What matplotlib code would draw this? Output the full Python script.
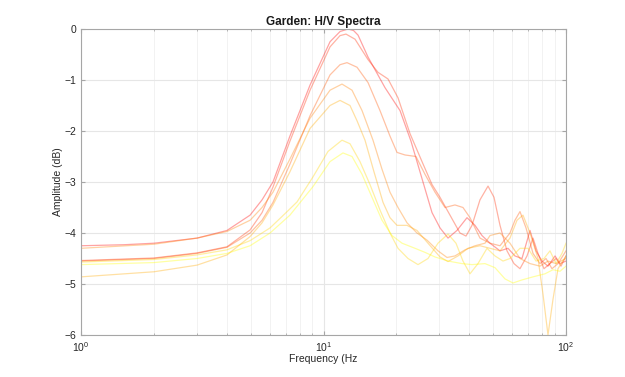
import matplotlib
matplotlib.use("Agg")
import matplotlib.pyplot as plt
from matplotlib.ticker import FixedLocator, NullFormatter

plt.rcParams['font.family'] = ['Liberation Sans', 'DejaVu Sans']
plt.rcParams['mathtext.default'] = 'regular'

# H/V spectra: frequency (Hz) and amplitude (dB) per curve
f1 = [1, 1.5, 2, 3.01, 4, 4.98, 5.58, 6.19, 7.27, 8.8, 10.64, 11.7, 12.62, 13.3, 13.88,
      15.26, 17.93, 20.68, 22.95, 25.72, 28.02, 30.23, 32.62, 35.51, 39.06, 42.15,
      45.04, 48.6, 53.44, 57.65, 61.6, 65.84, 71.05, 75.21, 79.62, 84.28, 90.08, 94.47, 100]
v1 = [-4.25, -4.23, -4.2, -4.1, -3.95, -3.65, -3.35, -3.0, -2.1, -1.1, -0.25, -0.05, 0.0, -0.03, -0.12,
      -0.55, -1.15, -1.6, -2.2, -3.0, -3.6, -3.9, -4.1, -3.95, -3.7, -3.85,
      -4.05, -4.2, -4.35, -4.3, -4.45, -4.5, -3.95, -4.35, -4.55, -4.65, -4.45, -4.6, -4.55]

f2 = [1, 2, 3.01, 4, 4.98, 5.58, 6.19, 7.27, 8.8, 10.64, 11.7, 12.38, 13.49, 15.26,
      16.78, 18.45, 20.29, 22.73, 25.48, 28.02, 30.23, 33.24, 36.54, 38.69, 40.96, 44.19,
      47.69, 50.48, 53.44, 57.11, 61.02, 64.6, 69.06, 73.1, 76.65, 81.14, 85.9, 90.95, 95.36, 100]
v2 = [-4.54, -4.49, -4.39, -4.27, -3.94, -3.6, -3.1, -2.2, -1.2, -0.35, -0.13, -0.1, -0.2, -0.6,
      -0.85, -0.98, -1.35, -2.05, -2.6, -3.05, -3.3, -3.65, -4.0, -4.06, -3.85, -3.35,
      -3.08, -3.3, -3.85, -4.35, -4.6, -4.7, -4.45, -4.1, -4.4, -4.7, -4.6, -4.5, -4.65, -4.45]

f3 = [1, 2, 3.01, 4, 4.98, 5.58, 6.19, 7.27, 8.8, 10.64, 11.7, 12.5, 13.75, 15.26,
      17.1, 18.8, 20.1, 21.68, 24.06, 26.22, 28.83, 31.7, 34.84, 37.6, 40.19, 44.19,
      48.6, 53.44, 58.75, 61.6, 64.6, 68.41, 73.1, 78.12, 82.69, 87.55, 92.68, 100]
v3 = [-4.55, -4.5, -4.4, -4.28, -4.0, -3.75, -3.4, -2.65, -1.7, -0.9, -0.7, -0.66, -0.75, -1.05,
      -1.6, -2.1, -2.42, -2.47, -2.5, -2.85, -3.2, -3.5, -3.45, -3.5, -3.7, -4.1,
      -4.2, -4.25, -4.0, -3.75, -3.58, -3.9, -4.4, -4.6, -4.5, -4.7, -4.6, -4.35]

f4 = [1, 2, 3.01, 4, 4.98, 5.58, 6.19, 7.27, 8.8, 10.64, 11.92, 13.11, 14.42, 16.0,
      17.43, 18.8, 20.29, 22.1, 24.29, 26.72, 29.66, 32.31, 34.84, 38.32, 42.15, 46.34,
      48.6, 53.44, 58.75, 64.6, 71.05, 78.12, 84.28, 90.95, 100]
v4 = [-4.3, -4.22, -4.1, -3.97, -3.75, -3.5, -3.2, -2.55, -1.75, -1.2, -1.08, -1.2, -1.6, -2.18,
      -2.75, -3.2, -3.5, -3.8, -4.0, -4.14, -4.35, -4.48, -4.45, -4.33, -4.25, -4.2,
      -4.05, -4.0, -4.2, -4.5, -4.6, -4.65, -4.55, -4.6, -4.5]

f5 = [1, 2, 3.01, 4, 4.98, 5.58, 6.19, 7.27, 8.8, 10.64, 11.7, 12.86, 13.75, 14.83,
      16.15, 17.6, 18.8, 20.1, 22.1, 24.29, 26.97, 30.23, 32.62, 35.85, 39.43, 44.19,
      48.6, 53.44, 58.75, 62.8, 66.47, 71.05, 76.65, 80.38, 84.28, 88.38, 92.68, 100]
v5 = [-4.86, -4.76, -4.63, -4.43, -4.07, -3.8, -3.45, -2.8, -1.95, -1.5, -1.4, -1.5, -1.8, -2.18,
      -2.8, -3.4, -3.7, -3.85, -3.85, -3.95, -4.2, -4.47, -4.56, -4.45, -4.3, -4.25,
      -4.3, -4.35, -4.1, -3.75, -3.65, -4.0, -4.5, -5.2, -6.0, -5.3, -4.7, -4.45]

f6 = [1, 2, 3.01, 4, 4.98, 6.02, 6.94, 7.78, 9.05, 10.44, 11.92, 12.86, 14.14, 15.55,
      17.1, 18.8, 20.29, 22.31, 24.53, 26.97, 29.66, 32.62, 35.18, 37.6, 40.19, 43.36,
      47.23, 50.96, 54.98, 58.75, 64.6, 69.72, 75.21, 81.14, 85.9, 90.95, 96.27, 100]
v6 = [-4.57, -4.52, -4.43, -4.33, -4.15, -3.9, -3.62, -3.39, -2.9, -2.4, -2.18, -2.25, -2.6, -3.05,
      -3.55, -4.0, -4.3, -4.5, -4.62, -4.5, -4.2, -4.02, -4.2, -4.55, -4.8, -4.6,
      -4.3, -4.45, -4.55, -4.5, -4.3, -4.3, -4.55, -4.5, -4.35, -4.6, -4.4, -4.2]

f7 = [1, 2, 3.01, 4, 4.98, 6.02, 7.27, 9.05, 10.64, 12.03, 13.11, 14.42, 15.85, 17.43,
      19.16, 21.08, 23.84, 26.22, 28.83, 32.62, 37.25, 40.96, 46.34, 50.96, 56.04, 60.44,
      65.84, 73.1, 81.92, 88.38, 94.47, 100]
v7 = [-4.62, -4.58, -4.5, -4.4, -4.25, -4.0, -3.65, -3.09, -2.6, -2.43, -2.5, -2.85, -3.3, -3.75,
      -4.05, -4.2, -4.3, -4.38, -4.47, -4.55, -4.6, -4.62, -4.6, -4.68, -4.9, -4.98,
      -4.92, -4.86, -4.8, -4.72, -4.75, -4.65]

freqs = [f1, f2, f3, f4, f5, f6, f7]
amps = [v1, v2, v3, v4, v5, v6, v7]

fig = plt.figure(figsize=(6.25, 3.77), dpi=100)
ax = fig.add_axes([0.1296, 0.1114, 0.776, 0.8117])

n = len(freqs)
for i, (f, v) in enumerate(zip(freqs, amps)):
    g = i / (n - 1)  # autumn colormap, red -> yellow
    ax.plot(f, v, color=(1.0, g, 0.0), alpha=0.36, lw=0.9)

ax.set_xscale('log')
ax.set_xlim(1, 100)
ax.set_ylim(-6, 0)
ax.set_yticks([-6, -5, -4, -3, -2, -1, 0])
ax.set_xticks([1, 10, 100])
ax.set_xticklabels([r'$10^0$', r'$10^1$', r'$10^2$'])
ax.xaxis.set_minor_locator(FixedLocator([k * d for d in (1, 10) for k in range(2, 10)]))
ax.xaxis.set_minor_formatter(NullFormatter())

ax.grid(True, which='major', color='#e6e6e6', lw=0.8)
ax.grid(True, which='minor', axis='x', color='#f0f0f0', lw=0.6)
ax.set_axisbelow(True)

for s in ax.spines.values():
    s.set_color('#a6a6a6')
    s.set_linewidth(0.8)
ax.tick_params(which='both', direction='in', top=True, right=True, colors='#a6a6a6',
               labelcolor='#262626', labelsize=7.5)
ax.tick_params(which='major', length=3)
ax.tick_params(which='minor', length=1.5)

ax.set_title('Garden: H/V Spectra', fontsize=8.5, fontweight='bold', color='#1a1a1a', pad=3)
ax.set_xlabel('Frequency (Hz', fontsize=7.5, color='#262626', labelpad=0)
ax.set_ylabel('Amplitude (dB)', fontsize=7.5, color='#262626', labelpad=1)

fig.savefig('out.png', dpi=100)
